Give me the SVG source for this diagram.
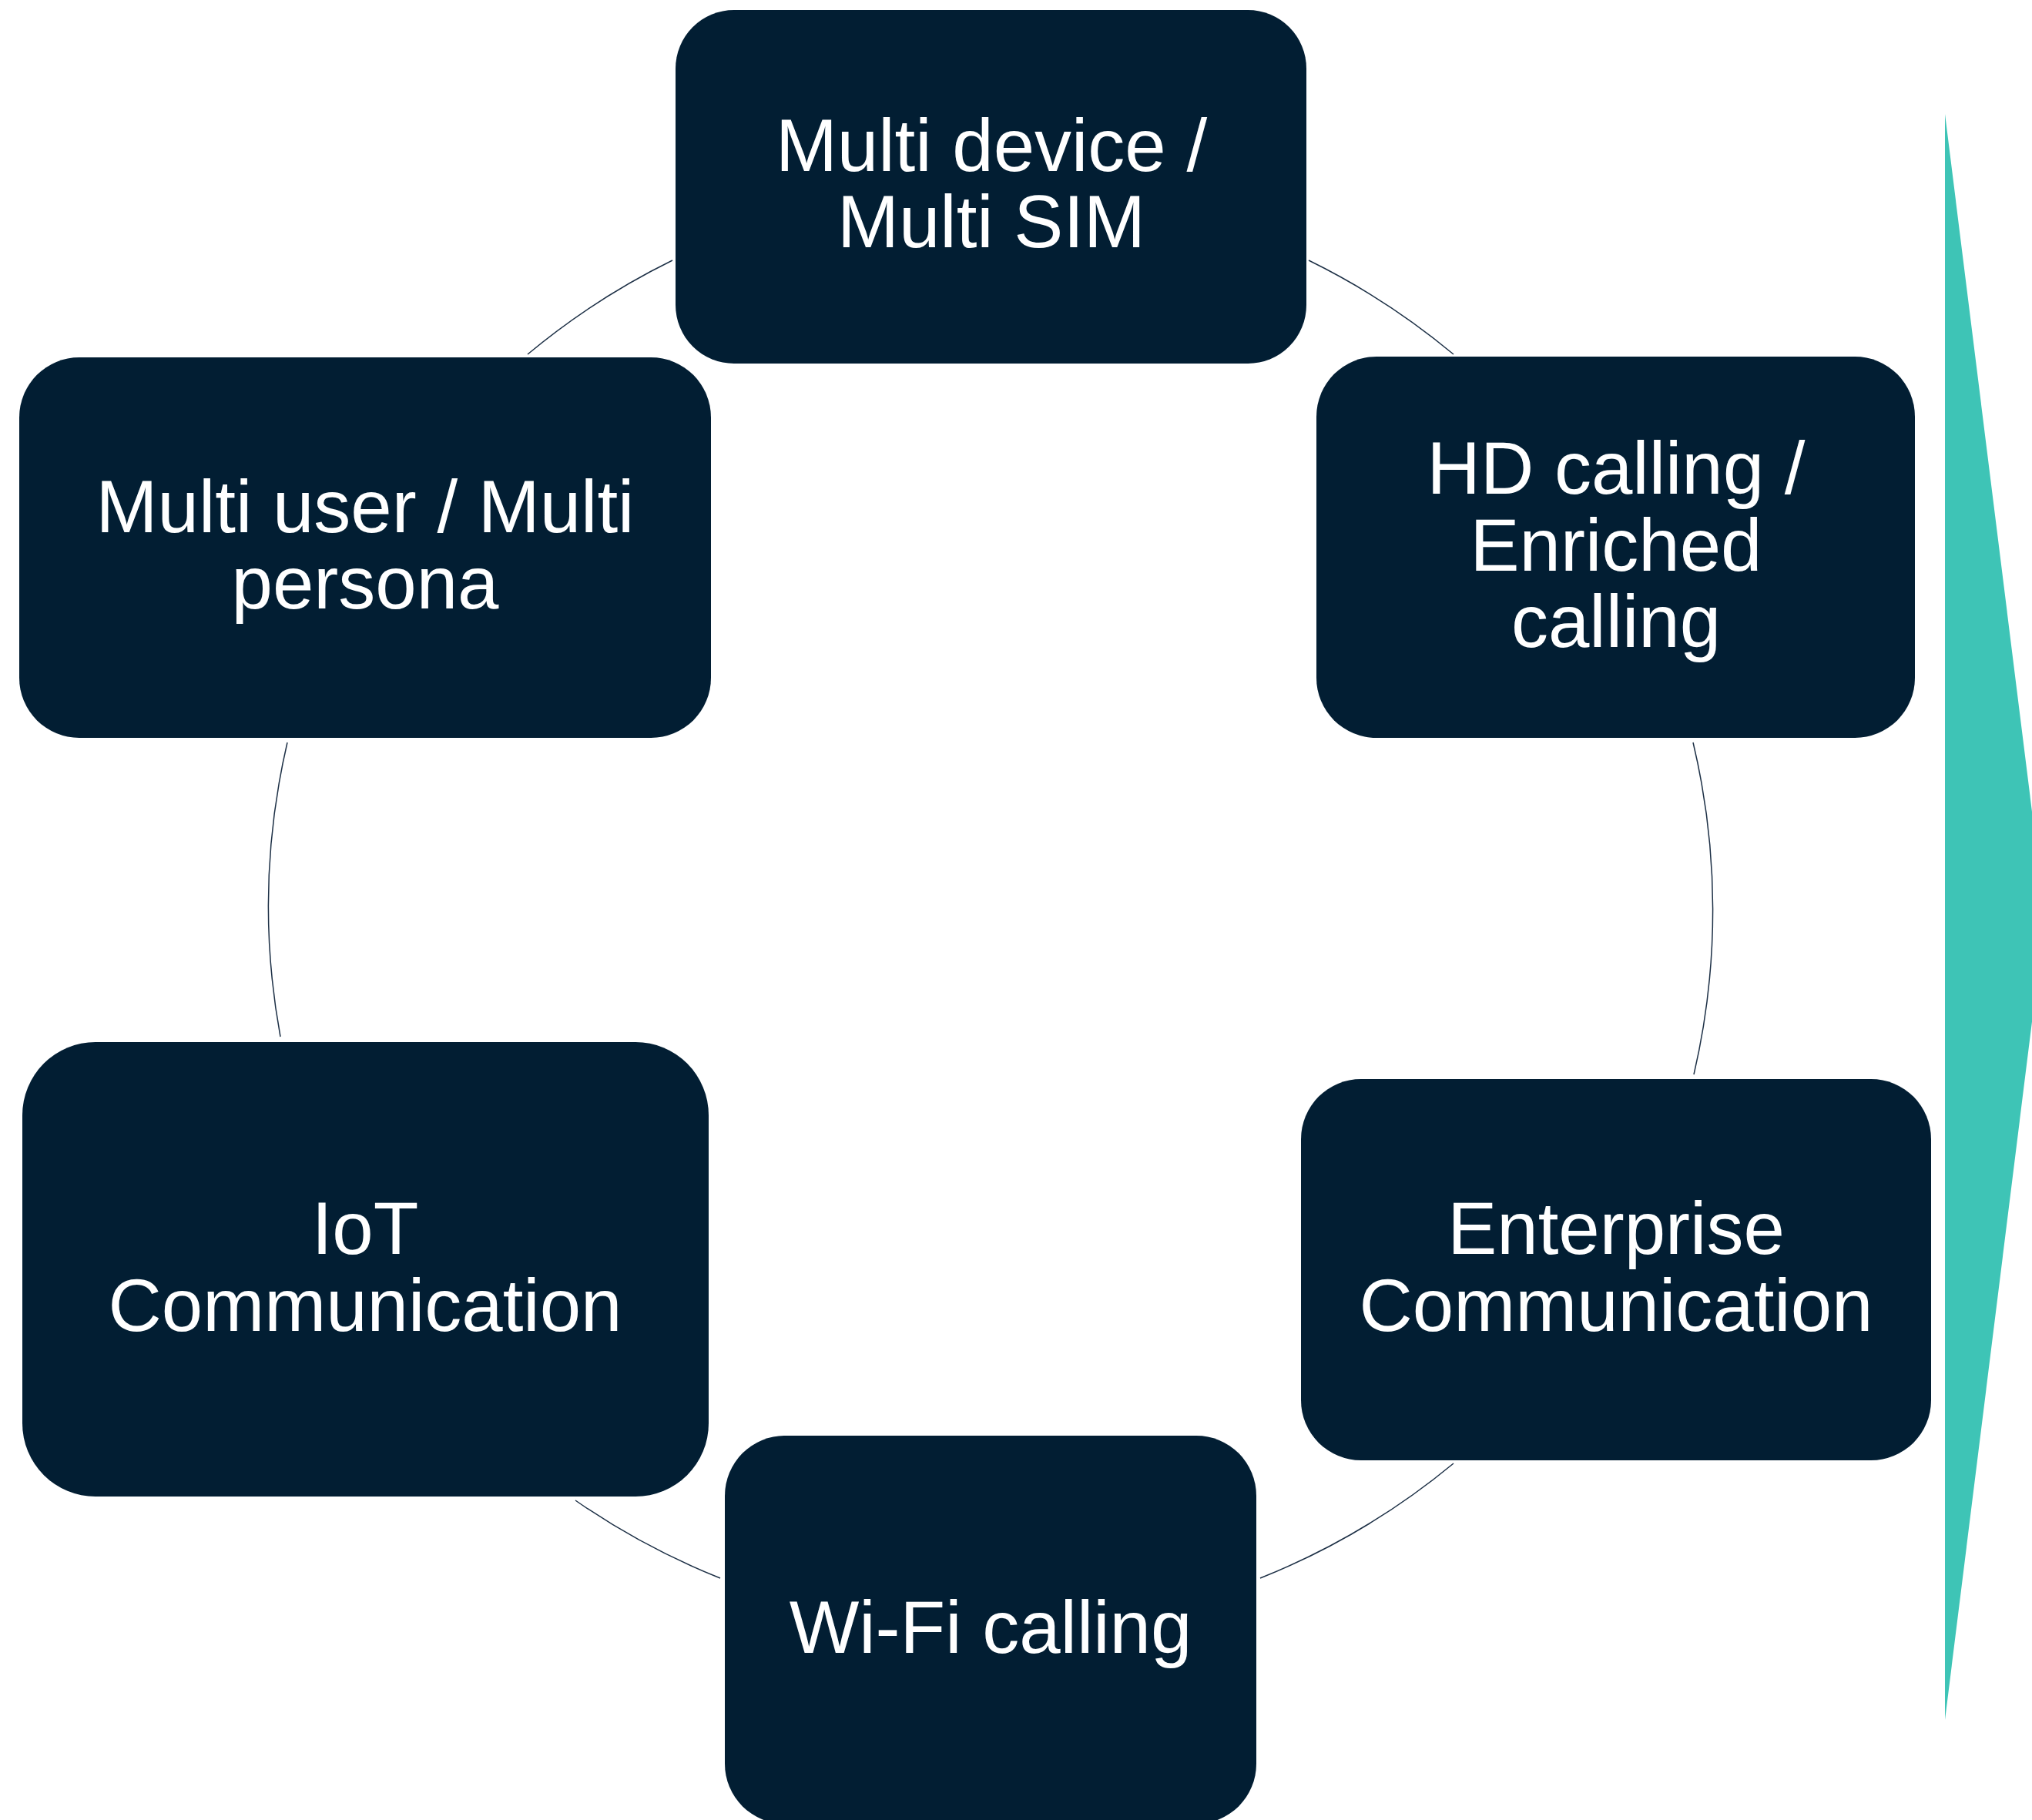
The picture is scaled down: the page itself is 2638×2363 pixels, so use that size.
<svg xmlns="http://www.w3.org/2000/svg" width="2638" height="2363" viewBox="0 0 2638 2363">
<style>
.box{fill:#021e33;}
.lbl{font-family:"Liberation Sans",Arial,sans-serif;font-size:96px;fill:#ffffff;text-anchor:middle;}
.conn{fill:none;stroke:#1d3046;stroke-width:1.5;}
</style>
<rect width="2638" height="2363" fill="#ffffff"/>
<polygon points="2525,148 2655,1190 2525,2233" fill="#3ec4b6"/>
<g id="connectors">
<path class="conn" d="M1699 338 A938 938 0 0 1 1887 460"/>
<path class="conn" d="M2198 964 A938 938 0 0 1 2199 1395"/>
<path class="conn" d="M1887 1900 A938 938 0 0 1 1636 2049"/>
<path class="conn" d="M935 2049 A938 938 0 0 1 747 1948"/>
<path class="conn" d="M364 1346 A938 938 0 0 1 373 964"/>
<path class="conn" d="M685 460 A938 938 0 0 1 873 338"/>
</g>
<g id="node-multi-device">
<rect class="box" x="877" y="13" width="819" height="459" rx="76" ry="76"/>
<text class="lbl" x="1287" y="222">Multi device /</text>
<text class="lbl" x="1287" y="321">Multi SIM</text>
</g>
<g id="node-hd-calling">
<rect class="box" x="1709" y="463" width="777" height="495" rx="78" ry="78"/>
<text class="lbl" x="2098" y="641">HD calling /</text>
<text class="lbl" x="2098" y="741">Enriched</text>
<text class="lbl" x="2098" y="840">calling</text>
</g>
<g id="node-enterprise">
<rect class="box" x="1689" y="1401" width="818" height="495" rx="78" ry="78"/>
<text class="lbl" x="2098" y="1628">Enterprise</text>
<text class="lbl" x="2098" y="1728">Communication</text>
</g>
<g id="node-wifi">
<rect class="box" x="941" y="1864" width="690" height="504" rx="78" ry="78"/>
<text class="lbl" x="1286" y="2146">Wi-Fi calling</text>
</g>
<g id="node-iot">
<rect class="box" x="29" y="1353" width="891" height="590" rx="95" ry="95"/>
<text class="lbl" x="474" y="1628">IoT</text>
<text class="lbl" x="474" y="1728">Communication</text>
</g>
<g id="node-multi-user">
<rect class="box" x="25" y="464" width="898" height="494" rx="78" ry="78"/>
<text class="lbl" x="474" y="691">Multi user / Multi</text>
<text class="lbl" x="474" y="790">persona</text>
</g>
</svg>
